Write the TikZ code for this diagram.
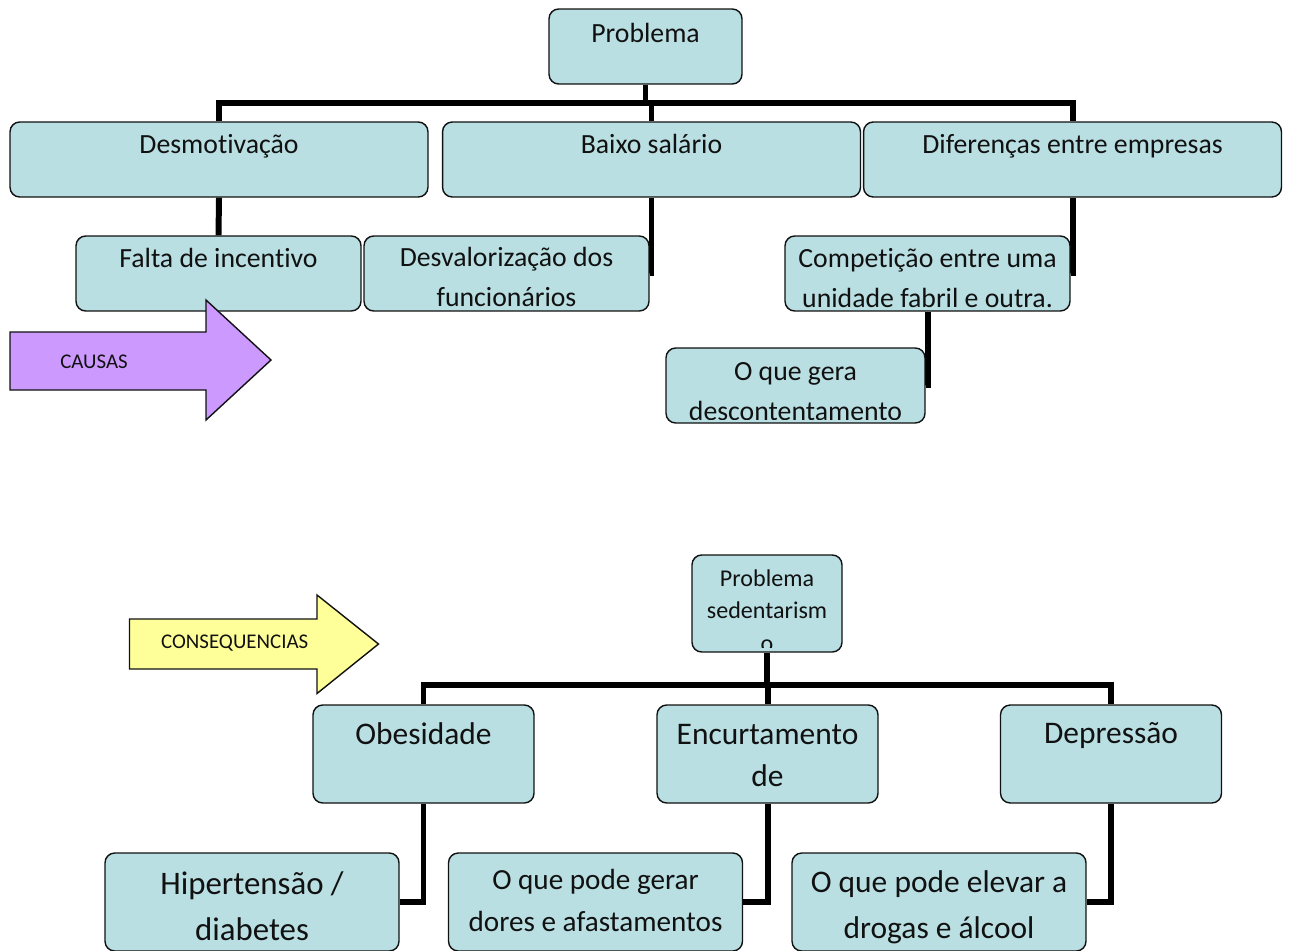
\documentclass[tikz,border=0pt]{standalone}
\usepackage{fontspec}
\setmainfont{Carlito}[Ligatures=NoCommon]
\usepackage{xcolor}
\usepackage{tikz}
\usetikzlibrary{backgrounds}
\definecolor{ink}{HTML}{111111}
\definecolor{boxFill}{HTML}{B9DFE3}
\definecolor{causeFill}{HTML}{CC99FF}
\definecolor{conseqFill}{HTML}{FFFF99}
\tikzset{
  treeBox/.style={draw=ink, line width=0.8pt, fill=boxFill, rounded corners=5.5pt, inner sep=0pt},
  rootBox/.style={treeBox, minimum width=3.86cm, minimum height=1.5cm},
  mainBox/.style={treeBox, minimum width=8.36cm, minimum height=1.5cm},
  subBox/.style={treeBox, minimum width=5.7cm, minimum height=1.5cm},
  leafBox/.style={treeBox, minimum width=5.18cm, minimum height=1.5cm},
  sedBox/.style={treeBox, minimum width=3.0cm, minimum height=1.94cm},
  effectBox/.style={treeBox, minimum width=4.42cm, minimum height=1.96cm},
  detailBox/.style={treeBox, minimum width=5.88cm, minimum height=1.96cm},
  treeText/.style={text=ink, inner sep=0pt, anchor=base, align=center},
  topText/.style={treeText, font=\fontsize{15.8}{22.5}\selectfont},
  sedText/.style={treeText, font=\fontsize{13.7}{18.4}\selectfont},
  effectText/.style={treeText, font=\fontsize{17.9}{24.2}\selectfont},
  treeLink/.style={draw=black, line width=3.4pt},
  arrowShape/.style={draw=ink, line width=0.8pt, line join=miter},
  arrowText/.style={text=ink, inner sep=0pt, anchor=base, font=\fontsize{11.9}{14}\selectfont}
}
\begin{document}
\begin{tikzpicture}[x=0.02cm, y=-0.02cm]
  \useasboundingbox (0,0) rectangle (1290,950);
  \clip (0,0) rectangle (1290,950);

  % causas
  \node[rootBox] (prob) at (645.5,46.5) {};
  \node[mainBox] (desm) at (219,159.5) {};
  \node[mainBox] (baixo) at (651.5,159.5) {};
  \node[mainBox] (dif) at (1072.5,159.5) {};
  \node[subBox] (falta) at (218.5,273.5) {};
  \node[subBox] (desv) at (506.5,273.5) {};
  \node[subBox] (comp) at (927.5,273.5) {};
  \node[leafBox] (gera) at (795.5,385.5) {};
  \coordinate (topBus) at (0,103);

  \begin{scope}[on background layer]
    \draw[treeLink] (prob.south) -- (prob.south |- topBus);
    \draw[treeLink] (desm.north) -- (desm.north |- topBus) -| (dif.north);
    \draw[treeLink] (baixo.north) -- (baixo.north |- topBus);
    \draw[treeLink] (desm.south) -- (falta.north);
    \draw[treeLink] (baixo.south) |- (desv.east);
    \draw[treeLink] (dif.south) |- (comp.east);
    \draw[treeLink] (comp.south) |- (gera.east);
  \end{scope}

  \node[topText] (probText) at (645.5,42) {Problema};
  \node[topText] (desmText) at (219,153) {Desmotivação};
  \node[topText] (baixoText) at (651.5,153) {Baixo salário};
  \node[topText] (difText) at (1072.5,153) {Diferenças entre empresas};
  \node[topText] (faltaText) at (218.5,267) {Falta de incentivo};
  \node[topText] (desvText) at (506.5,306) {Desvalorização dos\\funcionários};
  \begin{scope}
    \clip (comp.north west) rectangle ([yshift=1.9pt]comp.south east);
    \node[topText] (compText) at (927.5,307.5) {Competição entre uma\\unidade fabril e outra.};
  \end{scope}
  \begin{scope}
    \clip (gera.north west) rectangle ([yshift=2.4pt]gera.south east);
    \node[topText] (geraText) at (795.5,420) {O que gera\\descontentamento};
  \end{scope}

  \draw[arrowShape, fill=causeFill] (10,332) -- (206,332) -- (206,300) -- (271,360)
    -- (206,420) -- (206,390) -- (10,390) -- cycle;
  \node[arrowText] (causas) at (94,368.3) {CAUSAS};

  % consequencias
  \node[sedBox] (sed) at (767,603.5) {};
  \node[effectBox] (obes) at (423.5,754) {};
  \node[effectBox] (encur) at (767.5,754) {};
  \node[effectBox] (depr) at (1111,754) {};
  \node[detailBox] (hip) at (252,902) {};
  \node[detailBox] (dores) at (595.5,902) {};
  \node[detailBox] (drogas) at (939,902) {};
  \coordinate (lowBus) at (0,685);

  \begin{scope}[on background layer]
    \draw[treeLink] (sed.south) -- (sed.south |- lowBus);
    \draw[treeLink] (obes.north) -- (obes.north |- lowBus) -| (depr.north);
    \draw[treeLink] (encur.north) -- (encur.north |- lowBus);
    \draw[treeLink] (obes.south) |- (hip.east);
    \draw[treeLink] (encur.south) |- (dores.east);
    \draw[treeLink] (depr.south) |- (drogas.east);
  \end{scope}

  \begin{scope}
    \clip (sed.north west) rectangle ([yshift=2.7pt]sed.south east);
    \node[sedText] (sedText) at (767,651) {Problema\\sedentarism\\o};
  \end{scope}
  \node[effectText] (obesText) at (423.5,744) {Obesidade};
  \node[effectText] (encurText) at (767.5,786.7) {Encurtamento\\de};
  \node[effectText] (deprText) at (1111,743.5) {Depressão};
  \node[treeText, font=\fontsize{18.7}{26.5}\selectfont] (hipText) at (252,940.7) {Hipertensão /\\diabetes};
  \node[treeText, font=\fontsize{16.6}{24}\selectfont] (doresText) at (595.5,931.7) {O que pode gerar\\dores e afastamentos};
  \node[treeText, font=\fontsize{17.9}{26}\selectfont] (drogasText) at (939,938) {O que pode elevar a\\drogas e álcool};

  \draw[arrowShape, fill=conseqFill] (129.5,619) -- (317,619) -- (317,595) -- (378.5,644)
    -- (317,693.5) -- (317,669) -- (129.5,669) -- cycle;
  \node[arrowText] (conseq) at (234.7,648.3) {CONSEQUENCIAS};
\end{tikzpicture}
\end{document}
